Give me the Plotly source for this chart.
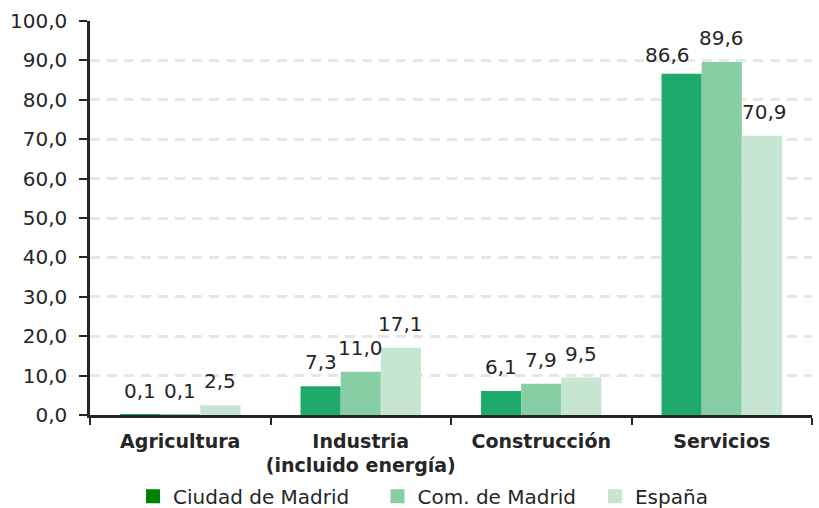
import plotly.graph_objects as go

categories = ["<b>Agricultura</b>", "<b>Industria<br>(incluido energía)</b>", "<b>Construcción</b>", "<b>Servicios</b>"]
ciudad = [0.1, 7.3, 6.1, 86.6]
comunidad = [0.1, 11.0, 7.9, 89.6]
espana = [2.5, 17.1, 9.5, 70.9]
series_names = ["Ciudad de Madrid", "Com. de Madrid", "España"]
bar_colors = ["#1DAA6B", "#88CEA4", "#C6E6D3"]
legend_colors = ["#008000", "#88CEA4", "#C6E6D3"]

font = "DejaVu Sans, Liberation Sans, sans-serif"
txt = "#262626"
fig = go.Figure()
all_vals = [ciudad, comunidad, espana]
for name, vals, col in zip(series_names, all_vals, bar_colors):
    fig.add_trace(go.Bar(
        x=categories, y=vals, name=name, marker=dict(color=col, line=dict(width=0)),
        showlegend=False,
    ))
# value labels (the crowded Servicios labels are nudged apart, as in the original)
shifts = [-40, 0, 40]
nudge = {(0, 3): (-14, -5), (2, 3): (3, 0)}
for si, (vals, xs) in enumerate(zip(all_vals, shifts)):
    for ci, (c, v) in enumerate(zip(categories, vals)):
        dx, dy = nudge.get((si, ci), (0, 0))
        fig.add_annotation(x=c, y=v, text=f"{v:.1f}".replace(".", ","), showarrow=False,
                           xshift=xs + dx, yshift=10 + dy, yanchor="bottom",
                           font=dict(family=font, size=20, color=txt))
legend_ids = ["legend", "legend2", "legend3"]
legend_x = [0.0596, 0.3982, 0.6994]
for name, col, lid in zip(series_names, legend_colors, legend_ids):
    fig.add_trace(go.Scatter(x=[None], y=[None], mode="markers", name=name, legend=lid,
                             marker=dict(symbol="square", size=14, color=col)))

leg_common = dict(orientation="h", y=-0.157, xanchor="left", yanchor="top",
                  font=dict(size=20, color=txt), itemwidth=30, bgcolor="rgba(0,0,0,0)")
fig.update_layout(
    width=819, height=508, barmode="group", bargap=0.333, bargroupgap=0,
    separators=",.",
    paper_bgcolor="white", plot_bgcolor="white",
    margin=dict(l=90, r=7, t=21, b=93, autoexpand=False),
    font=dict(family=font, size=20, color=txt),
    legend=dict(x=legend_x[0], **leg_common),
    legend2=dict(x=legend_x[1], **leg_common),
    legend3=dict(x=legend_x[2], **leg_common),
)
fig.update_yaxes(range=[0, 100], dtick=10, tickformat=".1f", showgrid=True,
                 gridcolor="#E6E6E6", griddash="10px,7px", gridwidth=3,
                 showline=True, linecolor=txt, linewidth=2.5,
                 ticks="outside", ticklen=8, tickwidth=2, tickcolor=txt,
                 ticklabelstandoff=8,
                 zeroline=False, tickfont=dict(size=20))
fig.update_xaxes(showline=True, linecolor=txt, linewidth=2.5, tickangle=0,
                 ticks="outside", tickson="boundaries", ticklen=7, tickwidth=2,
                 ticklabelstandoff=7,
                 tickcolor=txt, tickfont=dict(size=19))
fig.write_html("out.html")
